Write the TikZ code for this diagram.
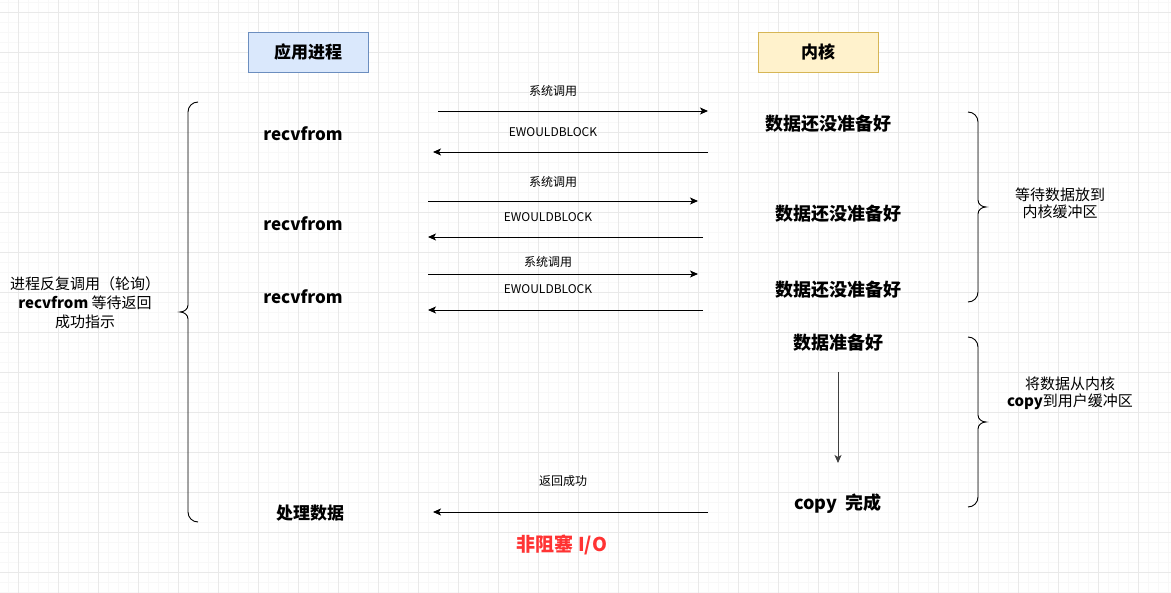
\documentclass[tikz,border=0pt]{standalone}
\usepackage{fontspec}
\setmainfont{Noto Sans CJK SC}
\usepackage{xcolor}
\usetikzlibrary{arrows.meta}
\definecolor{appfill}{HTML}{DAE8FC}
\definecolor{appline}{HTML}{6C8EBF}
\definecolor{kernfill}{HTML}{FFF2CC}
\definecolor{kernline}{HTML}{D6B656}
\definecolor{gridmajor}{HTML}{E9E9E9}
\definecolor{gridminor}{HTML}{F8F8F8}
\definecolor{alertred}{HTML}{FF3333}
\newcommand{\fs}[1]{\fontsize{#1}{#1}\selectfont}

\begin{document}
\begin{tikzpicture}[
  x=1pt, y=1pt,
  head/.style={draw, line width=0.8pt, minimum width=120pt, minimum height=40pt, inner sep=0pt, font=\fs{17}\bfseries},
  app/.style={head, fill=appfill, draw=appline},
  kern/.style={head, fill=kernfill, draw=kernline},
  call/.style={font=\fs{17}\bfseries},
  state/.style={font=\fs{18}\bfseries},
  lbl/.style={font=\fs{12}},
  note/.style={font=\fs{15}, align=center},
  arr/.style={-{Stealth[length=8pt,width=7pt,inset=2pt]}, line width=0.9pt},
  brc/.style={line width=0.9pt}
]
\useasboundingbox (0,0) rectangle (1171,-593);
\fill[white] (0,0) rectangle (1171,-593);
% grid
\foreach \gx in {8,18,...,1168} \draw[gridminor, line width=0.5pt] (\gx,0) -- (\gx,-593);
\foreach \gy in {2,12,...,592} \draw[gridminor, line width=0.5pt] (0,-\gy) -- (1171,-\gy);
\foreach \gx in {18,58,...,1158} \draw[gridmajor, line width=0.8pt] (\gx,0) -- (\gx,-593);
\foreach \gy in {12,52,...,572} \draw[gridmajor, line width=0.8pt] (0,-\gy) -- (1171,-\gy);

% headers
\node[app]  (proc) at (308,-52) {应用进程};
\node[kern] (kern) at (818,-52) {内核};

% process side
\node[call] (rf1) at (303,-134) {recvfrom};
\node[call] (rf2) at (303,-224) {recvfrom};
\node[call] (rf3) at (303,-297) {recvfrom};
\node[call] (done) at (310,-513) {处理数据};

% kernel side
\node[state] (nr1) at (828,-124) {数据还没准备好};
\node[state] (nr2) at (838,-214) {数据还没准备好};
\node[state] (nr3) at (838,-290) {数据还没准备好};
\node[state] (rdy) at (838,-343) {数据准备好};
\node[state] (cpy) at (838,-504) {copy\ \ 完成};

% arrow ends
\coordinate (s1a) at (438,-111); \coordinate (s1b) at (708,-111);
\coordinate (e1a) at (708,-152); \coordinate (e1b) at (433,-152);
\coordinate (s2a) at (428,-201); \coordinate (s2b) at (698,-201);
\coordinate (e2a) at (703,-237); \coordinate (e2b) at (428,-237);
\coordinate (s3a) at (428,-274); \coordinate (s3b) at (698,-274);
\coordinate (e3a) at (703,-310); \coordinate (e3b) at (428,-310);
\coordinate (oka) at (708,-512); \coordinate (okb) at (433,-512);
\coordinate (cpa) at (838,-372); \coordinate (cpb) at (838,-463);

\draw[arr] (s1a) -- (s1b);
\draw[arr] (e1a) -- (e1b);
\draw[arr] (s2a) -- (s2b);
\draw[arr] (e2a) -- (e2b);
\draw[arr] (s3a) -- (s3b);
\draw[arr] (e3a) -- (e3b);
\draw[arr] (oka) -- (okb);
\draw[arr, black!75] (cpa) -- (cpb);

\node[lbl] (l1) at (553,-91)  {系统调用};
\node[lbl] (l2) at (553,-132) {EWOULDBLOCK};
\node[lbl] (l3) at (553,-182) {系统调用};
\node[lbl] (l4) at (548,-217) {EWOULDBLOCK};
\node[lbl] (l5) at (548,-262) {系统调用};
\node[lbl] (l6) at (548,-289) {EWOULDBLOCK};
\node[lbl] (l7) at (563,-481) {返回成功};

% braces and notes
\draw[brc] (198,-102) to[out=180,in=90] (188,-112) -- (188,-305)
  to[out=-90,in=0] (180,-312) to[out=0,in=90] (188,-319) -- (188,-512) to[out=-90,in=180] (198,-522);
\draw[brc] (968,-112) to[out=0,in=90] (978,-122) -- (978,-200)
  to[out=-90,in=180] (986,-207) to[out=180,in=90] (978,-214) -- (978,-292) to[out=-90,in=0] (968,-302);
\draw[brc] (968,-337) to[out=0,in=90] (978,-347) -- (978,-415)
  to[out=-90,in=180] (986,-422) to[out=180,in=90] (978,-429) -- (978,-497) to[out=-90,in=0] (968,-507);
\node[note] (poll) at (85,-303) {进程反复调用（轮询）\\[4pt]\textbf{recvfrom} 等待返回\\[4pt]成功指示};
\node[note] (wait) at (1060,-203) {等待数据放到\\[2pt]内核缓冲区};
\node[note] (copy) at (1070,-393) {将数据从内核\\[2pt]\textbf{copy}到用户缓冲区};

\node[font=\fs{19}\bfseries, text=alertred] (title) at (562,-545) {非阻塞 I/O};
\end{tikzpicture}
\end{document}
